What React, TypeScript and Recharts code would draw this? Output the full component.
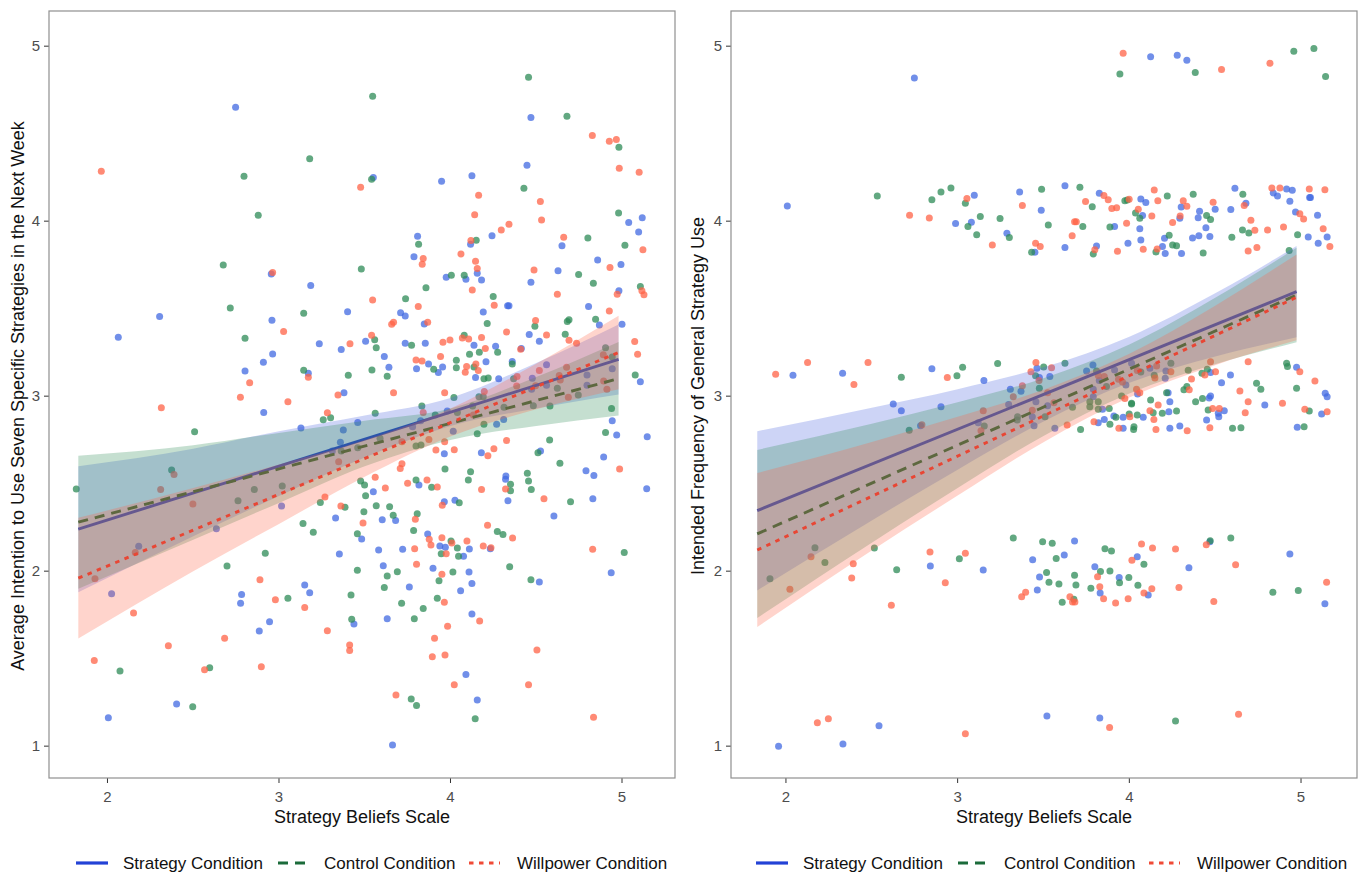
import React from 'react';
import { ComposedChart, XAxis, YAxis, Scatter, Line, Area } from 'recharts';

// ---------- text ----------
const conditionNames = ['Strategy Condition', 'Control Condition', 'Willpower Condition'];
const xTitle = 'Strategy Beliefs Scale';
const leftYTitle = 'Average Intention to Use Seven Specific Strategies in the Next Week';
const rightYTitle = 'Intended Frequency of General Strategy Use';
const xTicks = [2, 3, 4, 5];
const yTicks = [1, 2, 3, 4, 5];

// ---------- left panel points ----------
const leftStrategy: [number, number][] = [
  [2.747,4.651],[2.955,3.698],[3.185,3.632],[2.304,3.455],[3.4,3.483],[2.959,3.434],[2.063,3.337],[3.235,3.3],[3.505,3.314],[3.363,3.266],[2.963,3.241],[2.909,3.194],[2.802,3.144],[3.171,3.131],[3.379,3.02],
  [2.911,2.907],[3.128,2.818],[3.459,2.85],[3.375,2.806],[3.358,2.736],[3.311,2.686],[3.015,2.372],[3.33,2.304],[2.635,2.243],[3.482,2.184],[2.182,2.142],[3.352,2.098],[2.024,1.871],[2.782,1.867],[2.776,1.816],[3.15,1.921],[3.179,1.877],[2.945,1.711],[3.437,1.698],[2.885,1.658],[2.403,1.241],[2.005,1.163],
  [4.469,4.592],[4.446,4.319],[3.55,4.249],[3.948,4.228],[4.125,4.26],[5.039,3.992],[5.118,4.02],[5.097,3.938],[4.242,3.916],[3.808,3.914],[4.117,3.868],[4.65,3.86],[3.787,3.797],[4.858,3.778],[4.994,3.752],[4.156,3.702],[3.975,3.679],[4.09,3.668],[4.181,3.664],[4.627,3.717],[4.469,3.651],[4.982,3.603],[4.333,3.516],[4.341,3.516],[4.805,3.512],[4.191,3.481],[3.709,3.476],[3.736,3.458],[3.847,3.413],[4.868,3.407],[5.0,3.411],[3.736,3.302],[3.853,3.302],[4.137,3.291],[4.263,3.285],[4.459,3.352],[4.518,3.314],[4.413,3.272],[3.614,3.226],[3.641,3.165],[3.802,3.156],[3.872,3.184],[3.929,3.135],[3.954,3.167],[4.146,3.106],[4.207,3.196],[4.281,3.1],[4.36,3.198],[4.56,3.18],[4.943,3.156],[5.107,3.083],[4.796,3.121],[4.796,3.062],[4.477,3.102],[4.473,3.04],[4.56,3.062],
  [4.943,2.86],[4.969,2.778],[5.147,2.768],[3.981,2.915],[3.826,2.86],[3.779,2.825],[4.016,2.8],[4.269,2.839],[4.31,2.867],[3.964,2.671],[4.18,2.677],[4.525,2.686],[4.893,2.652],[3.816,2.492],[3.55,2.454],[4.323,2.544],[4.321,2.525],[4.79,2.574],[4.836,2.547],[5.144,2.471],[4.83,2.414],[4.335,2.403],[3.964,2.397],[4.026,2.405],[3.602,2.294],[3.68,2.29],[4.603,2.315],[3.867,2.212],[3.938,2.144],[3.97,2.136],[4.076,2.085],[4.11,2.126],[4.232,2.128],[3.581,2.121],[3.721,2.125],[3.608,2.031],[3.898,2.016],[4.108,1.995],[4.125,1.93],[4.518,1.938],[4.937,1.991],[3.76,1.909],[4.059,1.888],[3.631,1.728],[4.125,1.755],[4.09,1.41],[4.156,1.264],[3.662,1.006],
];
const leftControl: [number, number][] = [
  [3.179,4.357],[2.796,4.257],[2.879,4.034],[2.675,3.75],[3.48,3.727],[2.716,3.504],[3.144,3.474],[2.802,3.331],[3.144,3.148],[3.404,3.119],
  [3.258,2.865],[3.301,2.877],[2.508,2.797],[3.363,2.686],[3.459,2.705],[2.374,2.578],[1.818,2.469],[2.856,2.467],[3.019,2.486],[2.761,2.403],[3.241,2.393],[3.385,2.365],[3.476,2.515],[3.499,2.492],[3.505,2.431],[3.495,2.34],[3.14,2.273],[3.2,2.222],[3.457,2.214],[2.92,2.102],[2.697,2.029],[3.457,2.005],[3.052,1.845],[3.42,1.864],[3.424,1.725],[2.073,1.429],[2.596,1.448],[2.497,1.225],
  [4.455,4.822],[3.546,4.714],[4.679,4.599],[4.982,4.422],[3.54,4.239],[4.428,4.188],[4.98,4.047],[4.801,3.904],[3.814,3.868],[4.15,3.891],[5.017,3.862],[4.005,3.691],[4.08,3.691],[4.747,3.695],[4.833,3.645],[3.857,3.62],[5.107,3.626],[4.249,3.569],[3.738,3.557],[4.214,3.415],[4.492,3.399],[4.681,3.426],[4.691,3.437],[4.846,3.439],[3.558,3.323],[3.567,3.277],[4.08,3.348],[3.773,3.291],[4.275,3.251],[4.669,3.354],[4.168,3.251],[4.111,3.239],[3.542,3.15],[3.631,3.114],[3.902,3.154],[4.034,3.205],[4.034,3.163],[4.137,3.167],[4.22,3.104],[4.36,3.184],[4.368,3.1],[4.904,3.277],[4.943,3.224],[5.077,3.121],[4.623,3.045],[4.195,3.1],[4.166,2.997],[4.191,2.997],[4.745,3.007],[4.02,2.992],
  [4.939,2.93],[4.904,2.793],[3.561,2.902],[3.833,2.944],[3.911,2.892],[4.04,2.907],[4.129,2.944],[4.195,2.839],[4.312,2.936],[4.483,2.945],[4.58,2.944],[3.589,2.759],[3.799,2.715],[3.828,2.721],[4.156,2.785],[4.578,2.749],[4.51,2.677],[4.638,2.616],[3.968,2.584],[4.117,2.568],[4.104,2.521],[3.799,2.521],[3.89,2.479],[4.35,2.496],[4.35,2.46],[4.448,2.559],[4.455,2.515],[4.471,2.467],[4.7,2.397],[4.051,2.391],[3.567,2.374],[3.645,2.368],[3.806,2.328],[3.666,2.319],[4.273,2.227],[4.306,2.21],[3.785,2.233],[4.003,2.172],[4.04,2.132],[3.946,2.1],[4.047,2.085],[5.013,2.107],[4.345,2.025],[3.69,1.997],[3.631,1.972],[3.614,1.907],[4.014,1.995],[3.933,1.945],[4.469,1.951],[3.923,1.845],[3.715,1.816],[3.841,1.787],[3.789,1.728],[3.771,1.269],[3.802,1.233],[4.144,1.157],
];
const leftWillpower: [number, number][] = [
  [1.964,4.285],[3.476,4.194],[2.963,3.706],[3.027,3.369],[3.414,3.3],[3.171,3.108],[2.829,3.077],[2.775,2.994],[3.344,3.007],
  [3.052,2.968],[2.314,2.934],[3.282,2.905],[3.348,2.625],[2.388,2.553],[2.31,2.467],[2.498,2.384],[3.268,2.424],[3.361,2.372],[3.49,2.275],[2.162,2.107],[1.927,1.957],[2.889,1.951],[2.979,1.837],[3.15,1.793],[2.152,1.761],[3.282,1.66],[2.683,1.616],[2.355,1.574],[3.412,1.578],[3.412,1.547],[1.923,1.49],[2.566,1.437],[2.897,1.454],
  [4.827,4.489],[4.926,4.457],[4.967,4.466],[4.984,4.302],[5.1,4.279],[4.164,4.148],[4.524,4.112],[4.531,4.007],[4.141,4.037],[4.341,3.982],[4.296,3.95],[4.66,3.908],[4.119,3.889],[5.122,3.836],[4.061,3.813],[3.841,3.786],[3.835,3.754],[4.146,3.771],[4.93,3.735],[4.487,3.721],[4.156,3.729],[4.127,3.607],[5.116,3.603],[5.128,3.58],[4.972,3.582],[3.546,3.55],[4.623,3.582],[3.812,3.512],[4.255,3.519],[4.926,3.487],[3.657,3.411],[3.668,3.422],[3.867,3.422],[4.496,3.432],[4.327,3.367],[3.54,3.348],[4.069,3.333],[4.106,3.327],[4.181,3.335],[3.956,3.308],[3.997,3.321],[4.203,3.272],[4.56,3.35],[4.691,3.319],[4.735,3.302],[4.409,3.268],[3.668,3.02],[3.799,3.207],[3.834,3.201],[3.942,3.226],[4.086,3.137],[4.094,3.169],[4.162,3.146],[4.148,3.184],[4.891,3.236],[5.074,3.312],[5.091,3.239],[4.518,3.146],[4.634,3.118],[4.496,3.06],[4.64,3.093],[4.677,3.165],[4.893,3.087],[4.912,3.04],[4.386,3.058],[4.388,3.112],[4.197,3.026],[4.687,2.994],
  [3.966,3.02],[3.841,2.907],[4.133,2.892],[3.717,2.74],[3.874,2.753],[3.966,2.74],[4.327,2.747],[3.915,2.692],[4.022,2.694],[4.218,2.66],[4.253,2.7],[3.707,2.587],[3.717,2.614],[3.561,2.536],[3.75,2.502],[3.863,2.521],[3.923,2.481],[3.62,2.475],[4.321,2.469],[4.181,2.467],[4.986,2.584],[4.545,2.414],[3.952,2.376],[3.795,2.296],[4.216,2.262],[4.362,2.189],[3.876,2.182],[3.886,2.149],[3.95,2.191],[4.008,2.161],[3.975,2.1],[4.096,2.172],[4.191,2.144],[4.236,2.134],[3.791,2.128],[4.829,2.125],[3.802,2.039],[3.95,1.982],[3.964,1.822],[4.17,1.715],[3.983,1.685],[3.907,1.616],[4.504,1.549],[3.894,1.511],[3.968,1.521],[4.022,1.351],[4.455,1.351],[3.682,1.292],[4.834,1.165],
];

// ---------- right panel points ----------
const rightStrategy: [number, number][] = [
  [2.748,4.818],[2.008,4.087],[3.097,4.148],[2.988,3.986],[3.08,3.994],[3.287,3.931],[3.361,4.167],[3.487,4.062],[3.45,3.822],[2.041,3.119],[2.33,3.131],[2.85,3.157],[3.153,3.089],[3.462,3.159],[3.476,3.106],[3.307,3.039],[3.369,3.028],
  [2.625,2.955],[2.672,2.917],[2.903,2.94],[2.784,2.831],[3.12,2.848],[3.297,2.953],[3.435,2.883],[3.445,2.831],[3.456,2.968],[3.524,2.945],[2.841,2.029],[3.149,2.006],[3.437,2.065],[3.477,1.966],[3.464,1.892],[1.957,1.0],[2.332,1.012],[2.542,1.117],[3.52,1.172],
  [4.124,4.94],[4.279,4.948],[4.335,4.919],[3.625,4.203],[3.825,4.159],[3.625,3.849],[3.809,3.858],[3.914,3.969],[3.992,3.874],[4.067,4.127],[4.096,4.106],[4.077,4.032],[4.061,3.957],[4.067,3.893],[4.205,3.902],[4.193,3.855],[4.209,3.815],[4.294,4.017],[4.302,4.081],[4.304,3.815],[4.401,4.02],[4.409,4.057],[4.446,3.963],[4.405,3.917],[4.469,3.912],[4.368,3.904],[4.5,4.068],[4.591,4.066],[4.615,4.188],[4.679,4.102],[4.838,4.161],[4.863,4.144],[4.916,4.184],[4.949,4.177],[4.935,4.114],[4.968,4.053],[5.05,4.135],[5.055,4.135],[5.096,4.034],[5.042,3.91],[5.1,3.874],[5.152,3.91],[3.537,3.112],[3.788,3.178],[3.751,3.144],[3.825,3.089],[3.79,3.04],[3.914,3.15],[3.98,3.064],[4.013,3.188],[4.12,3.159],[4.213,3.144],[4.209,3.102],[4.473,3.135],[4.537,3.077],[4.589,3.121],[4.974,3.165],[5.141,3.016],[5.152,2.997],[4.226,3.02],
  [4.048,3.012],[4.473,3.001],[4.465,2.989],[3.566,2.816],[3.79,2.997],[3.844,2.925],[3.819,2.848],[3.854,2.867],[3.91,2.886],[3.964,2.816],[3.964,2.879],[4.081,2.879],[4.236,2.968],[4.23,2.911],[4.236,2.816],[4.294,2.829],[4.45,2.864],[4.521,2.883],[4.518,2.902],[4.553,2.917],[4.789,2.949],[4.978,2.822],[5.12,2.898],[3.681,2.172],[3.621,2.092],[3.799,2.025],[3.83,1.875],[3.941,1.964],[4.11,1.864],[4.046,2.083],[4.347,2.02],[4.469,2.168],[4.935,2.098],[5.139,1.814],[3.828,1.161],
];
const rightControl: [number, number][] = [
  [2.532,4.144],[2.85,4.123],[2.903,4.167],[2.961,4.19],[3.045,4.102],[3.06,3.969],[3.132,4.026],[3.111,3.923],[3.247,4.015],[3.301,3.906],[3.489,4.182],[3.528,3.978],[3.431,3.822],[2.672,3.108],[2.996,3.117],[3.029,3.165],[3.233,3.186],[3.454,3.116],[3.501,3.167],[3.476,3.045],
  [2.718,2.805],[3.155,2.829],[3.349,2.883],[3.347,2.864],[3.509,2.883],[1.907,1.957],[2.169,2.134],[2.227,2.05],[2.515,2.132],[2.645,2.008],[3.01,2.071],[3.324,2.189],[3.495,2.168],[3.518,1.993],[3.532,1.936],
  [3.945,4.841],[4.384,4.849],[4.958,4.971],[5.075,4.986],[5.143,4.826],[3.712,4.194],[3.784,4.083],[3.729,3.969],[3.79,3.813],[3.887,3.967],[3.974,4.117],[3.988,4.121],[4.036,4.047],[4.061,4.016],[4.221,4.144],[4.155,3.824],[4.232,3.919],[4.252,3.864],[4.275,3.86],[4.372,4.154],[4.45,4.032],[4.473,4.009],[4.43,3.818],[4.597,3.908],[4.661,4.154],[4.659,3.95],[4.696,3.933],[4.98,3.923],[4.931,3.832],[3.625,3.188],[3.809,3.144],[3.867,3.055],[4.067,3.138],[4.145,3.119],[4.242,3.188],[4.343,3.148],[4.318,3.036],[4.335,3.055],[4.423,3.131],[4.454,3.154],[4.741,3.074],[4.766,3.04],[4.916,3.188],[4.921,3.169],[4.974,3.045],[4.217,3.02],
  [3.955,3.001],[3.669,2.936],[3.716,2.81],[3.77,2.968],[3.819,2.968],[3.77,2.94],[3.819,2.925],[3.883,2.93],[3.887,2.839],[3.922,2.879],[4.027,2.825],[4.025,2.81],[3.999,2.898],[4.013,2.959],[4.013,2.955],[4.046,2.892],[4.124,2.978],[4.139,2.905],[4.192,2.902],[4.275,2.915],[4.386,2.968],[4.426,2.987],[4.459,2.921],[4.601,2.816],[4.65,2.82],[5.048,2.915],[5.018,2.825],[3.551,2.159],[3.574,2.073],[3.59,1.926],[3.681,1.976],[3.689,1.921],[3.609,1.822],[3.677,1.839],[3.832,1.998],[3.887,2.001],[3.858,2.128],[3.896,2.115],[3.776,1.902],[3.943,1.934],[3.997,1.964],[4.05,1.919],[4.085,2.039],[4.471,2.174],[4.591,2.189],[4.836,1.879],[4.984,1.89],[4.269,1.144],
];
const rightWillpower: [number, number][] = [
  [2.72,4.034],[2.835,4.018],[3.054,4.129],[3.202,3.864],[3.377,4.089],[3.454,3.874],[3.481,3.855],[1.94,3.125],[2.126,3.192],[2.396,3.066],[2.478,3.192],[2.94,3.106],[3.456,3.192],[3.427,3.14],[3.474,3.089],[3.377,3.06],[3.324,2.997],
  [2.792,2.837],[3.149,2.917],[3.136,2.803],[3.435,2.919],[3.524,3.02],[2.023,1.896],[2.146,2.083],[2.392,2.043],[2.383,1.961],[2.614,1.805],[2.839,2.109],[2.928,1.934],[3.045,2.102],[3.373,1.854],[3.396,1.879],[2.183,1.134],[2.247,1.157],[3.045,1.071],
  [3.964,4.959],[4.537,4.866],[4.819,4.902],[3.852,4.146],[3.877,4.123],[3.898,4.072],[3.926,4.077],[3.745,4.112],[3.681,3.996],[3.691,3.996],[3.667,3.916],[3.799,3.836],[3.931,3.828],[3.984,3.988],[3.999,4.125],[4.052,4.068],[4.131,4.03],[4.145,4.178],[4.166,4.117],[4.081,3.84],[4.162,3.841],[4.252,3.992],[4.296,4.03],[4.314,4.117],[4.335,4.085],[4.488,4.108],[4.669,4.089],[4.708,4.005],[4.731,3.948],[4.692,3.83],[4.743,3.849],[4.805,3.95],[4.83,4.19],[4.877,4.19],[4.898,3.967],[4.993,4.043],[5.015,4.013],[5.048,4.184],[5.139,4.18],[5.129,3.957],[5.168,3.855],[3.547,3.163],[3.819,3.118],[3.854,3.112],[3.937,3.097],[3.96,3.081],[4.046,3.146],[4.042,3.04],[4.061,3.02],[4.159,3.173],[4.149,3.104],[4.242,3.14],[4.362,3.098],[4.349,3.036],[4.44,3.121],[4.473,3.196],[4.502,3.14],[4.692,3.196],[4.644,3.03],[4.993,3.14],[5.081,3.087],
  [3.561,2.963],[3.638,2.835],[3.794,2.854],[3.939,2.816],[4.003,2.883],[3.974,2.987],[4.168,2.949],[4.12,2.917],[4.143,2.867],[4.155,2.81],[4.337,2.803],[4.485,2.93],[4.524,2.93],[4.469,2.82],[4.692,2.968],[4.675,2.905],[4.892,2.959],[5.022,2.925],[5.152,2.911],[3.654,1.854],[3.669,1.824],[3.683,1.824],[3.815,1.968],[3.828,1.911],[3.85,1.843],[3.92,1.818],[3.993,1.843],[4.085,1.875],[4.131,1.9],[4.015,2.062],[4.071,2.155],[4.135,2.132],[4.269,2.126],[4.289,1.907],[4.448,2.151],[4.619,2.037],[4.492,1.827],[5.149,1.936],[3.885,1.107],[4.636,1.182],
];

// ---------- fitted lines (endpoints) ----------
const leftFitX = [1.83, 4.98];
const leftStrategyFit = [2.24, 3.21];
const leftControlFit = [2.28, 3.10];
const leftWillpowerFit = [1.96, 3.25];
const rightFitX = [1.833, 4.974];
const rightStrategyFit = [2.346, 3.597];
const rightControlFit = [2.213, 3.578];
const rightWillpowerFit = [2.121, 3.565];

// ---------- confidence bands ----------
const leftBandX = [1.83, 2.5, 3.0, 3.5, 4.0, 4.5, 4.98];
const leftStrategyLo = [1.88, 2.20, 2.43, 2.65, 2.83, 2.93, 3.01];
const leftStrategyHi = [2.60, 2.70, 2.80, 2.89, 2.99, 3.19, 3.41];
const leftControlLo = [1.90, 2.18, 2.39, 2.60, 2.75, 2.83, 2.89];
const leftControlHi = [2.66, 2.72, 2.79, 2.86, 2.93, 3.11, 3.31];
const leftWillpowerLo = [1.615, 2.0, 2.27, 2.54, 2.77, 2.925, 3.04];
const leftWillpowerHi = [2.305, 2.475, 2.61, 2.75, 2.93, 3.185, 3.46];
const rightBandX = [1.833, 2.5, 3.0, 3.5, 4.0, 4.5, 4.974];
const rightStrategyLo = [1.89, 2.29, 2.58, 2.855, 3.076, 3.226, 3.336];
const rightStrategyHi = [2.80, 2.934, 3.04, 3.165, 3.34, 3.588, 3.858];
const rightControlLo = [1.733, 2.163, 2.475, 2.773, 3.015, 3.182, 3.308];
const rightControlHi = [2.693, 2.843, 2.965, 3.103, 3.295, 3.562, 3.848];
const rightWillpowerLo = [1.681, 2.118, 2.432, 2.737, 2.992, 3.177, 3.32];
const rightWillpowerHi = [2.561, 2.738, 2.882, 3.037, 3.242, 3.517, 3.81];

// ---------- style ----------
const STYLE = [
  { point: '#4169E1', band: '#4A63E0', line: '#2A3FCC', legend: '#2342D6', dash: undefined as string | undefined },
  { point: '#2E8B57', band: '#2E8B57', line: '#1F6A3C', legend: '#1B6B3A', dash: '10 7' },
  { point: '#FF6347', band: '#FF6347', line: '#E84634', legend: '#F04A36', dash: '4.5 5.5' },
];
const FONT = '"Liberation Sans", Arial, Helvetica, sans-serif';

const toPts = (a: [number, number][]) => a.map(([x, y]) => ({ x, y }));
const toLine = (xs: number[], ys: number[]) => xs.map((x, i) => ({ x, y: ys[i] }));
const toBand = (xs: number[], lo: number[], hi: number[]) => xs.map((x, i) => ({ x, band: [lo[i], hi[i]] }));

const dot = (color: string) => (p: any) => (
  <circle cx={p.cx} cy={p.cy} r={3.5} fill={color} fillOpacity={0.75} stroke="none" />
);

type PanelProps = {
  left: number;
  yAxisWidth: number;
  rightMargin: number;
  xDomain: [number, number];
  yTitle: string;
  points: [number, number][][];
  bands: { x: number; band: number[] }[][];
  lines: { x: number; y: number }[][];
};

const PLOT_TOP = 11;
const PLOT_BOTTOM = 778;
const W = 680;
const H = 874;

function Panel({ left, yAxisWidth, rightMargin, xDomain, yTitle, points, bands, lines }: PanelProps) {
  const plotLeft = yAxisWidth;
  const plotRight = W - rightMargin;
  const plotW = plotRight - plotLeft;
  const cx = plotLeft + plotW / 2;
  const legendX = [76, 278, 469];
  const legendW = [32, 30, 31];
  const legendTextX = [123, 324, 517];
  return (
    <div style={{ position: 'absolute', left, top: 0, width: W, height: H }}>
      <ComposedChart
        width={W}
        height={H}
        margin={{ top: PLOT_TOP, right: rightMargin, bottom: H - PLOT_BOTTOM - 30, left: 0 }}
      >
        <XAxis
          type="number"
          dataKey="x"
          domain={xDomain}
          allowDataOverflow
          ticks={xTicks}
          height={30}
          axisLine={false}
          tickSize={5}
          tickMargin={8}
          tickLine={{ stroke: '#333333' }}
          tick={{ fill: '#4D4D4D', fontSize: 15, fontFamily: FONT }}
        />
        <YAxis
          type="number"
          dataKey="y"
          domain={[0.818, 5.201]}
          allowDataOverflow
          ticks={yTicks}
          width={yAxisWidth}
          axisLine={false}
          tickSize={5}
          tickMargin={4}
          tickLine={{ stroke: '#333333' }}
          tick={{ fill: '#4D4D4D', fontSize: 15, fontFamily: FONT }}
        />
        {points.map((pts, i) => (
          <Scatter
            key={'s' + i}
            data={toPts(pts)}
            dataKey="y"
            isAnimationActive={false}
            shape={dot(STYLE[i].point)}
            zIndex={50 + i}
          />
        ))}
        {[0, 1, 2].flatMap((i) => [
          <Area
            key={'a' + i}
            data={bands[i]}
            dataKey="band"
            type="monotone"
            fill={STYLE[i].band}
            fillOpacity={0.28}
            stroke="none"
            isAnimationActive={false}
            activeDot={false}
            dot={false}
            zIndex={100 + i * 2}
          />,
          <Line
            key={'l' + i}
            data={lines[i]}
            dataKey="y"
            type="linear"
            stroke={STYLE[i].line}
            strokeWidth={2.9}
            strokeDasharray={STYLE[i].dash}
            dot={false}
            activeDot={false}
            isAnimationActive={false}
            zIndex={101 + i * 2}
          />,
        ])}
      </ComposedChart>
      <svg
        width={W}
        height={H}
        style={{ position: 'absolute', left: 0, top: 0, pointerEvents: 'none' }}
      >
        <rect
          x={plotLeft}
          y={PLOT_TOP}
          width={plotW}
          height={PLOT_BOTTOM - PLOT_TOP}
          fill="none"
          stroke="#8f8f8f"
          strokeWidth={1.2}
        />
        <text x={cx} y={823} textAnchor="middle" fontSize={18} fontFamily={FONT} fill="#111">
          {xTitle}
        </text>
        <text
          x={18}
          y={396}
          textAnchor="middle"
          dy="0.35em"
          fontSize={18}
          fontFamily={FONT}
          fill="#111"
          transform="rotate(-90 18 396)"
        >
          {yTitle}
        </text>
        {conditionNames.map((name, i) => (
          <g key={name}>
            <line
              x1={legendX[i]}
              x2={legendX[i] + legendW[i]}
              y1={863}
              y2={863}
              stroke={STYLE[i].legend}
              strokeWidth={3.2}
              strokeDasharray={STYLE[i].dash}
            />
            <text x={legendTextX[i]} y={869} fontSize={17} fontFamily={FONT} fill="#111">
              {name}
            </text>
          </g>
        ))}
      </svg>
    </div>
  );
}

export default function App() {
  return (
    <div style={{ position: 'absolute', left: 0, top: 0, width: 1360, height: 874, background: '#fff' }}>
      <Panel
        left={0}
        yAxisWidth={49}
        rightMargin={5}
        xDomain={[1.659, 5.309]}
        yTitle={leftYTitle}
        points={[leftStrategy, leftControl, leftWillpower]}
        bands={[
          toBand(leftBandX, leftStrategyLo, leftStrategyHi),
          toBand(leftBandX, leftControlLo, leftControlHi),
          toBand(leftBandX, leftWillpowerLo, leftWillpowerHi),
        ]}
        lines={[
          toLine(leftFitX, leftStrategyFit),
          toLine(leftFitX, leftControlFit),
          toLine(leftFitX, leftWillpowerFit),
        ]}
      />
      <Panel
        left={680}
        yAxisWidth={51}
        rightMargin={3}
        xDomain={[1.68, 5.326]}
        yTitle={rightYTitle}
        points={[rightStrategy, rightControl, rightWillpower]}
        bands={[
          toBand(rightBandX, rightStrategyLo, rightStrategyHi),
          toBand(rightBandX, rightControlLo, rightControlHi),
          toBand(rightBandX, rightWillpowerLo, rightWillpowerHi),
        ]}
        lines={[
          toLine(rightFitX, rightStrategyFit),
          toLine(rightFitX, rightControlFit),
          toLine(rightFitX, rightWillpowerFit),
        ]}
      />
    </div>
  );
}
